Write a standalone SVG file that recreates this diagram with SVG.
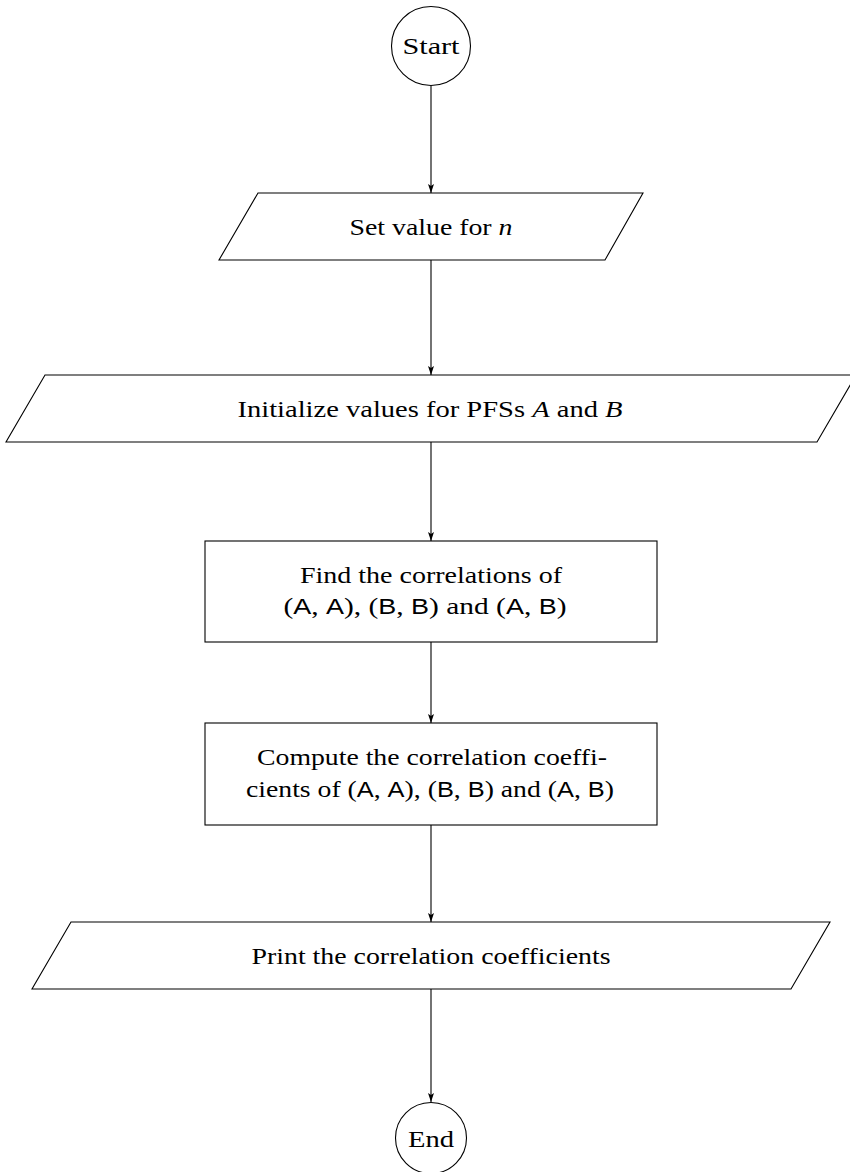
<svg xmlns="http://www.w3.org/2000/svg" width="850" height="1172" viewBox="0 0 850 1172">
<style>
  .shape { fill: #ffffff; stroke: #000000; stroke-width: 1.1; }
  .conn { fill: none; stroke: #000000; stroke-width: 1.1; }
  .t { font-family: "Liberation Serif", "Times New Roman", serif; font-size: 24px; fill: #000000; text-anchor: middle; }
  .it { font-style: italic; }
  .sf { font-family: "Liberation Sans", Arial, sans-serif; font-size: 22px; }
</style>
<defs>
  <marker id="arr" markerWidth="10" markerHeight="8" refX="9" refY="3" orient="auto" markerUnits="userSpaceOnUse">
    <path d="M0,0 L9,3 L0,6 L2,3 Z" fill="#000000"/>
  </marker>
</defs>
<rect x="0" y="0" width="850" height="1172" fill="#ffffff"/>

<g id="connectors">
  <line class="conn" x1="431" y1="86" x2="431" y2="193" marker-end="url(#arr)"/>
  <line class="conn" x1="431" y1="260" x2="431" y2="375" marker-end="url(#arr)"/>
  <line class="conn" x1="431" y1="442" x2="431" y2="541" marker-end="url(#arr)"/>
  <line class="conn" x1="431" y1="642" x2="431" y2="723" marker-end="url(#arr)"/>
  <line class="conn" x1="431" y1="825" x2="431" y2="922" marker-end="url(#arr)"/>
  <line class="conn" x1="431" y1="989" x2="431" y2="1102" marker-end="url(#arr)"/>
</g>

<g id="start">
  <circle class="shape" cx="431" cy="46" r="39.5"/>
  <text class="t" x="431" y="54" textLength="57" lengthAdjust="spacingAndGlyphs">Start</text>
</g>

<g id="set-n">
  <polygon class="shape" points="258,193 643,193 605,260 219,260"/>
  <text class="t" x="431" y="235" textLength="163" lengthAdjust="spacingAndGlyphs">Set value for <tspan class="it">n</tspan></text>
</g>

<g id="init">
  <polygon class="shape" points="45,375 856,375 817,442 6,442"/>
  <text class="t" x="430" y="417" textLength="385" lengthAdjust="spacingAndGlyphs">Initialize values for PFSs <tspan class="it">A</tspan> and <tspan class="it">B</tspan></text>
</g>

<g id="find">
  <rect class="shape" x="205" y="541" width="452" height="101"/>
  <text class="t" x="431" y="583" textLength="262" lengthAdjust="spacingAndGlyphs">Find the correlations of</text>
  <text class="t" x="425" y="614" textLength="283" lengthAdjust="spacingAndGlyphs">(<tspan class="sf">A</tspan>, <tspan class="sf">A</tspan>), (<tspan class="sf">B</tspan>, <tspan class="sf">B</tspan>) and (<tspan class="sf">A</tspan>, <tspan class="sf">B</tspan>)</text>
</g>

<g id="compute">
  <rect class="shape" x="205" y="723" width="452" height="102"/>
  <text class="t" x="432" y="765" textLength="350" lengthAdjust="spacingAndGlyphs">Compute the correlation coeffi-</text>
  <text class="t" x="430" y="797" textLength="368" lengthAdjust="spacingAndGlyphs">cients of (<tspan class="sf">A</tspan>, <tspan class="sf">A</tspan>), (<tspan class="sf">B</tspan>, <tspan class="sf">B</tspan>) and (<tspan class="sf">A</tspan>, <tspan class="sf">B</tspan>)</text>
</g>

<g id="print">
  <polygon class="shape" points="71,922 830,922 791,989 32,989"/>
  <text class="t" x="431" y="964" textLength="359" lengthAdjust="spacingAndGlyphs">Print the correlation coefficients</text>
</g>

<g id="end">
  <circle class="shape" cx="431" cy="1138" r="35.5"/>
  <text class="t" x="431" y="1147" textLength="46" lengthAdjust="spacingAndGlyphs">End</text>
</g>
</svg>
